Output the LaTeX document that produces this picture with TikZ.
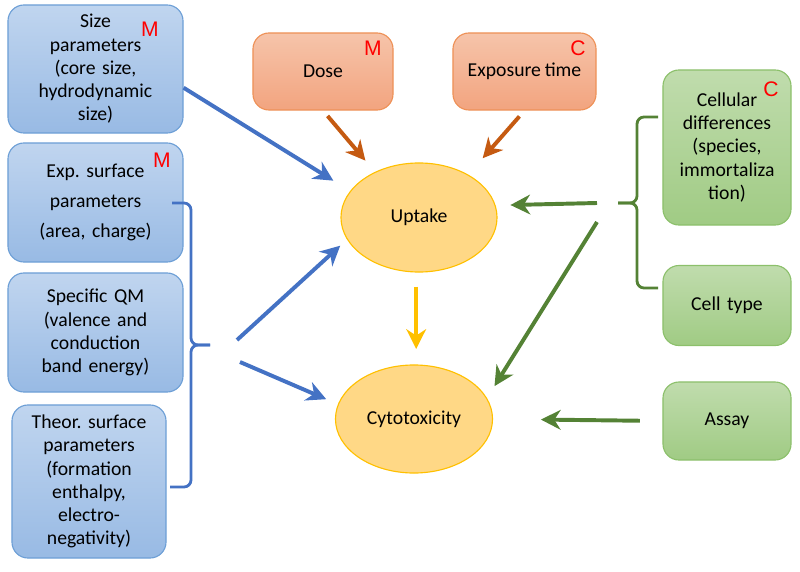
\documentclass[tikz,border=0pt]{standalone}
\usepackage{fontspec}
\setmainfont[WordSpace=0.85]{Carlito}
\newfontfamily\tagfont{Liberation Sans}
\usetikzlibrary{shapes,arrows.meta,positioning}

\definecolor{bluetop}{HTML}{C0D5EF}
\definecolor{bluebot}{HTML}{98BAE4}
\definecolor{blueedge}{HTML}{6D9FD6}
\definecolor{orangetop}{HTML}{F6C4AA}
\definecolor{orangebot}{HTML}{F2A47F}
\definecolor{orangeedge}{HTML}{EE9157}
\definecolor{greentop}{HTML}{C0DCAD}
\definecolor{greenbot}{HTML}{A0CB84}
\definecolor{greenedge}{HTML}{8CC06B}
\definecolor{ellfill}{HTML}{FFD886}
\definecolor{elledge}{HTML}{FFC000}
\definecolor{bluearrow}{HTML}{4472C4}
\definecolor{orangearrow}{HTML}{C55A11}
\definecolor{yellowarrow}{HTML}{FFC000}
\definecolor{greenarrow}{HTML}{548235}

\begin{document}
\begin{tikzpicture}[x=0.025cm,y=-0.025cm]
   \tikzset{param node/.style={rectangle, draw=blueedge, line width=0.8pt,
   		top color=bluetop, bottom color=bluebot, rounded corners=0.4cm,
   		text centered, align=center, text width=3.5cm, minimum width=4.375cm,
   		font=\fontsize{14}{16.5}\selectfont}, }
   \tikzset{exposure node/.style={rectangle, draw=orangeedge, line width=0.8pt,
   		top color=orangetop, bottom color=orangebot, rounded corners=0.4cm,
   		text centered, minimum height=1.925cm,
   		font=\fontsize{14}{16.5}\selectfont}, }
   \tikzset{cell node/.style={rectangle, draw=greenedge, line width=0.8pt,
   		top color=greentop, bottom color=greenbot, rounded corners=0.4cm,
   		text centered, align=center, text width=2.9cm, minimum width=3.2cm,
   		font=\fontsize{14}{16.5}\selectfont}, }
   \tikzset{effect node/.style={ellipse, draw=elledge, line width=0.8pt,
   		fill=ellfill, text centered, inner sep=0pt,
   		font=\fontsize{14}{16.5}\selectfont}, }
   \tikzset{tag/.style={text=red, inner sep=0pt, font=\tagfont\fontsize{15}{15}\selectfont}, }
   \tikzset{brace/.style={line width=2pt, rounded corners=5pt}, }
   \tikzset{linea/.style={-{Stealth[length=14pt,width=14pt,inset=4.5pt]}, line width=2.8pt},}

\useasboundingbox (0,0) rectangle (800,571);

% descriptors
\node[param node, minimum height=3.2cm] (1) at (95.5,69) {Size\\parameters\\(core size,\\hydrodynamic\\size)};
\node[param node, minimum height=2.975cm] (2) at (95.5,202.5) {Exp.\ surface\\[5pt]parameters\\[5pt](area, charge)};
\node[param node, minimum height=2.975cm] (3) at (95.5,332.5) {Specific QM\\(valence and\\conduction\\band energy)};
\node[param node, minimum width=3.85cm, minimum height=3.825cm] (4) at (89,481.5) {Theor.\ surface\\parameters\\(formation\\enthalpy,\\electro-\\negativity)};
\node[exposure node, minimum width=3.5cm] (dose) at (323,71.5) {Dose};
\node[exposure node, minimum width=3.575cm] (expo) at (524.5,71.5) {Exposure time};
\node[cell node, minimum height=3.875cm] (cell) at (727,147.5) {Cellular\\differences\\(species,\\immortaliza\\tion)};
\node[cell node, minimum height=2cm] (type) at (727,305.5) {Cell type};
\node[cell node, minimum height=1.95cm] (assay) at (727,421) {Assay};

% outcomes
\node[effect node, minimum width=3.9cm, minimum height=2.725cm] (up) at (419,217.5) {Uptake};
\node[effect node, minimum width=3.925cm, minimum height=2.7cm] (cyto) at (414,419) {Cytotoxicity};

% M / C marks
\node[tag] (t1) at (150,29) {M};
\node[tag] (t2) at (162,160) {M};
\node[tag] (t3) at (373,48) {M};
\node[tag] (t4) at (578,48) {C};
\node[tag] (t5) at (771,89) {C};

% braces
\coordinate (bt) at (172,203);
\coordinate (bm) at (210,345);
\coordinate (bb) at (170,487);
\coordinate (gt) at (658,117);
\coordinate (gm) at (618,203);
\coordinate (gb) at (658,288);
\draw[brace, bluearrow] (bt) -| (191,345) -- (bm);
\draw[brace, bluearrow] (bb) -| (191,345) -- (bm);
\draw[brace, greenarrow] (gt) -| (637,203) -- (gm);
\draw[brace, greenarrow] (gb) -| (637,203) -- (gm);

\coordinate (bs1) at (237,340);
\coordinate (bs2) at (240,362);
\coordinate (gs1) at (597,203);
\coordinate (gs2) at (597,222);
\coordinate (ya) at ([xshift=-2pt]up.south);

% arrows
\draw[linea, bluearrow, shorten >=14pt] (1.-12) -- (up.159);
\draw[linea, bluearrow, shorten >=6.5pt] (bs1) -- (up.197);
\draw[linea, bluearrow, shorten >=9pt] (bs2) -- (cyto.169);
\draw[linea, orangearrow, shorten <=5pt, shorten >=10.5pt] (dose.south) -- (up.134);
\draw[linea, orangearrow, shorten <=5.5pt, shorten >=15.5pt] (expo.south) -- (up.41);
\draw[linea, yellowarrow, shorten <=10pt, shorten >=11pt] (ya) -- (ya |- cyto.north);
\draw[linea, greenarrow, shorten >=10.5pt] (gs1) -- (up.9);
\draw[linea, greenarrow, shorten >=10pt] (gs2) -- (cyto.16);
\draw[linea, greenarrow, shorten <=16pt, shorten >=34pt] (assay.west) -- (cyto.east);
\end{tikzpicture}
\end{document}
